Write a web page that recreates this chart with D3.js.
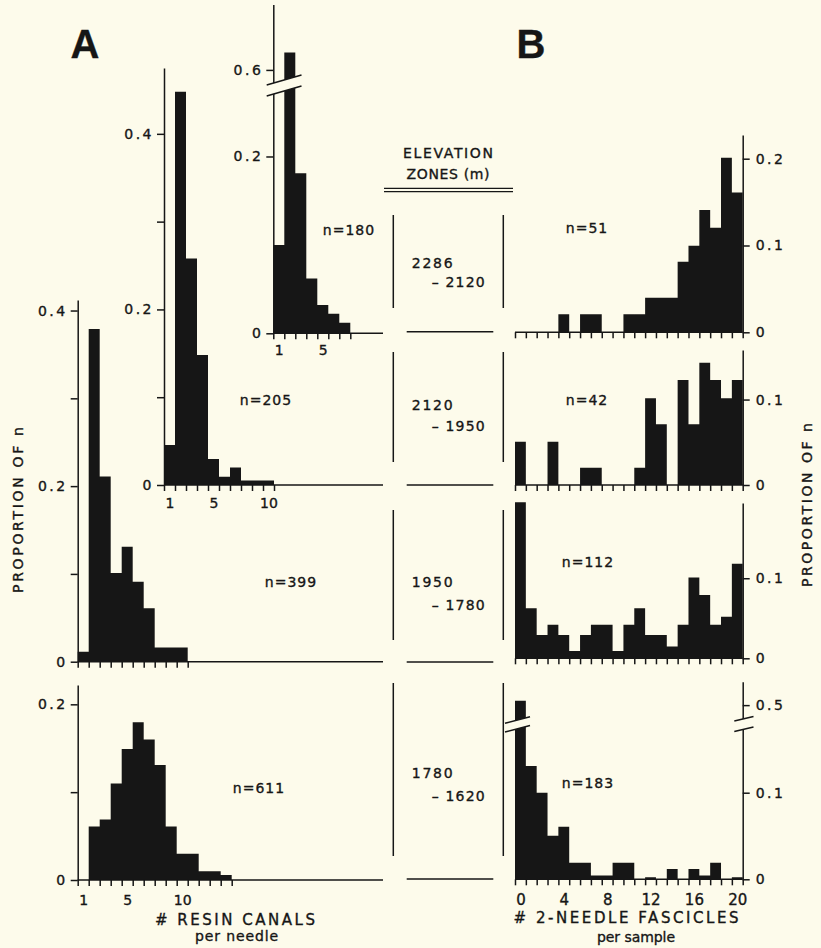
<!DOCTYPE html>
<html>
<head>
<meta charset="utf-8">
<script src="https://cdn.jsdelivr.net/npm/d3@7"></script>
<style>
  html, body { margin: 0; padding: 0; background: #fdfbeb; }
  svg { display: block; }
  text { font-family: "DejaVu Sans", sans-serif; fill: #161616; stroke: #161616; stroke-width: 0.35px; }
</style>
</head>
<body>
<svg id="fig" width="821" height="948"></svg>
<script>
// ---------- data ----------
// A: number of resin canals per needle (categories 1..14)
const resinCanals = d3.range(1, 15);
// proportion of needles in each resin-canal class, per elevation zone
const canals2286 = [0.100, 0.620, 0.181, 0.062, 0.032, 0.022, 0.012];
const canals2120 = [0.0455, 0.448, 0.258, 0.148, 0.0296, 0.0095, 0.020, 0.005, 0.005, 0.005];
const canals1950 = [0.0114, 0.379, 0.211, 0.101, 0.131, 0.091, 0.061, 0.0163, 0.0163, 0.0163];
const canals1780 = [0, 0.061, 0.069, 0.110, 0.149, 0.1795, 0.160, 0.131, 0.061, 0.030, 0.030, 0.010, 0.010, 0.0057];

// B: number of 2-needle fascicles per sample (categories 0..20)
const fascicleCounts = d3.range(0, 21);
const fasc2286 = [0, 0, 0, 0, 0.0207, 0, 0.0207, 0.0207, 0, 0, 0.0207, 0.0207, 0.0399, 0.0399, 0.0399, 0.0813, 0.0998, 0.141, 0.1205, 0.201, 0.161];
const fasc2120 = [0.0507, 0, 0, 0.0507, 0, 0, 0.0203, 0.0203, 0, 0, 0, 0.0203, 0.1014, 0.071, 0, 0.1228, 0.071, 0.143, 0.1228, 0.1014, 0.1228];
const fasc1950 = [0.195, 0.0625, 0.029, 0.042, 0.029, 0.009, 0.029, 0.042, 0.042, 0.009, 0.042, 0.0625, 0.029, 0.029, 0.0146, 0.042, 0.101, 0.079, 0.042, 0.052, 0.118];
const fasc1780 = [0.505, 0.1308, 0.100, 0.0503, 0.0607, 0.0192, 0.0192, 0.0045, 0.0045, 0.0192, 0.0192, 0, 0.0025, 0, 0.0119, 0, 0.0119, 0.0045, 0.0192, 0, 0.0025];

// elevation zones (m) and sample sizes
const zoneUpper = ["2286", "2120", "1950", "1780"];
const zoneLower = ["2120", "1950", "1780", "1620"];
const sampleSizesA = [180, 205, 399, 611];
const sampleSizesB = [51, 42, 112, 183];

// tick labels
const canalTickLabels = [[1, 5], [1, 5, 10], [], [1, 5, 10]];
const fascicleTickLabels = [0, 4, 8, 12, 16, 20];

// ---------- drawing ----------
const BG = "#fdfbeb", INK = "#161616", LW = 1.5;
const svg = d3.select("#fig");
svg.append("rect").attr("width", 821).attr("height", 948).attr("fill", BG);

const fmt = d => d === 0 ? "0" : d3.format(".1f")(d);

function styleAxis(g, size, spacing) {
  g.attr("font-family", null).attr("font-size", null);
  g.selectAll("path, line").attr("stroke", INK).attr("stroke-width", LW);
  g.selectAll("text").attr("fill", INK).style("font-size", size + "px").style("letter-spacing", spacing + "px");
}

function drawBreak(g, x0, x1, y0, slope, gap) {
  const yl = x => y0 + slope * (x - x0);
  g.append("path")
    .attr("d", `M${x0},${yl(x0)}L${x1},${yl(x1)}L${x1},${yl(x1) + gap}L${x0},${yl(x0) + gap}Z`)
    .attr("fill", BG);
  [0, gap].forEach(off => {
    g.append("line")
      .attr("x1", x0).attr("y1", yl(x0) + off)
      .attr("x2", x1).attr("y2", yl(x1) + off)
      .attr("stroke", INK).attr("stroke-width", LW);
  });
}

// one filled path per histogram, so neighbouring classes join without seams
function bars(g, cats, vals, x, y, base) {
  const p = d3.path();
  cats.forEach((c, i) => {
    const v = vals[i];
    if (!(v > 0)) return;
    p.rect(x(c - 0.5), y(v), x(c + 0.5) - x(c - 0.5), base - y(v));
  });
  g.append("path").attr("d", p.toString()).attr("fill", INK);
}

// ---- column A: resin canals ----
const panelsA = [
  { values: canals2286, axisX: 273.3, yDomain: [0, 0.27, 0.585, 0.675], yRange: [333.3, 94.6, 83, 4.5],
    yTicks: [0, 0.2, 0.6], yLabelled: [0, 0.2, 0.6], nBins: 7, labelY: 358, nPos: [349, 235],
    brk: { x0: 266.7, x1: 301.5, y0: 85, slope: -0.29, gap: 11 } },
  { values: canals2120, axisX: 164, yDomain: [0, 0.475], yRange: [485, 68],
    yTicks: [0, 0.1, 0.2, 0.3, 0.4], yLabelled: [0, 0.2, 0.4], nBins: 10, labelY: 511, nPos: [266, 405] },
  { values: canals1950, axisX: 77.7, yDomain: [0, 0.412], yRange: [661.7, 300],
    yTicks: [0, 0.1, 0.2, 0.3, 0.4], yLabelled: [0, 0.2, 0.4], nBins: 10, labelY: 0, nPos: [291, 587] },
  { values: canals1780, axisX: 77.7, yDomain: [0, 0.222], yRange: [880, 685],
    yTicks: [0, 0.1, 0.2], yLabelled: [0, 0.2], nBins: 14, labelY: 908, nPos: [259, 793] }
];
const binA = 11;

panelsA.forEach((p, i) => {
  const g = svg.append("g");
  const base = p.yRange[0];
  const x = d3.scaleLinear().domain([0.5, 1.5]).range([p.axisX, p.axisX + binA]);
  const y = d3.scaleLinear().domain(p.yDomain).range(p.yRange);
  const cats = resinCanals.slice(0, p.values.length);

  bars(g, cats, p.values, x, y, base);

  // baseline
  g.append("line").attr("x1", p.axisX).attr("x2", 383).attr("y1", base).attr("y2", base)
    .attr("stroke", INK).attr("stroke-width", LW);

  // class boundary ticks
  const edges = d3.range(0, p.nBins + 1).map(k => k + 0.5);
  const xa = g.append("g").attr("transform", `translate(0,${base})`)
    .call(d3.axisBottom(x).tickValues(edges).tickFormat("").tickSize(6).tickSizeOuter(0));
  xa.select(".domain").remove();
  styleAxis(xa, 13, 0);

  // category labels
  const labs = canalTickLabels[i];
  if (labs.length) {
    const xl = g.append("g").attr("transform", `translate(0,${p.labelY - 13})`)
      .call(d3.axisBottom(x).tickValues(labs).tickSize(0).tickPadding(0).tickFormat(d3.format("d")));
    xl.select(".domain").remove();
    styleAxis(xl, 14, 0);
  }

  // proportion axis
  const ya = g.append("g").attr("transform", `translate(${p.axisX},0)`)
    .call(d3.axisLeft(y).tickValues(p.yTicks).tickSize(7).tickSizeOuter(0).tickPadding(3)
      .tickFormat(d => p.yLabelled.includes(d) ? fmt(d) : ""));
  styleAxis(ya, 14, 2.5);

  if (p.brk) drawBreak(g, p.brk.x0, p.brk.x1, p.brk.y0, p.brk.slope, p.brk.gap);

  g.append("text").attr("x", p.nPos[0]).attr("y", p.nPos[1])
    .attr("text-anchor", "middle").style("font-size", "14px").style("letter-spacing", "1px")
    .text(`n=${sampleSizesA[i]}`);
});

// ---- column B: 2-needle fascicles ----
const panelsB = [
  { values: fasc2286, yDomain: [0, 0.2273], yRange: [332.3, 135], yTicks: [0, 0.1, 0.2], nPos: [587, 233] },
  { values: fasc2120, yDomain: [0, 0.158], yRange: [485, 350], yTicks: [0, 0.1], nPos: [587, 405] },
  { values: fasc1950, yDomain: [0, 0.194], yRange: [658.3, 503], yTicks: [0, 0.1], nPos: [588, 567] },
  { values: fasc1780, yDomain: [0, 0.173, 0.484, 0.527], yRange: [879.3, 729.5, 719, 681.7], yTicks: [0, 0.1, 0.5], nPos: [588, 788],
    brks: [{ x0: 505, x1: 530, y0: 723.3, slope: -0.26, gap: 8.8 },
           { x0: 734.3, x1: 753.5, y0: 721, slope: -0.23, gap: 10.5 }] }
];
const xB = d3.scaleLinear().domain([-0.5, 20.5]).range([515, 742.7]);
const axisBX = 742.7;

panelsB.forEach((p, i) => {
  const g = svg.append("g");
  const base = p.yRange[0];
  const y = d3.scaleLinear().domain(p.yDomain).range(p.yRange);

  bars(g, fascicleCounts, p.values, xB, y, base);

  g.append("line").attr("x1", xB(-0.5)).attr("x2", axisBX).attr("y1", base).attr("y2", base)
    .attr("stroke", INK).attr("stroke-width", LW);

  const edges = d3.range(0, 22).map(k => k - 0.5);
  const xa = g.append("g").attr("transform", `translate(0,${base})`)
    .call(d3.axisBottom(xB).tickValues(edges).tickFormat("").tickSize(6).tickSizeOuter(0));
  xa.select(".domain").remove();
  styleAxis(xa, 13, 0);

  if (i === panelsB.length - 1) {
    const xl = g.append("g").attr("transform", `translate(0,${base + 15})`)
      .call(d3.axisBottom(xB).tickValues(fascicleTickLabels).tickSize(0).tickPadding(0).tickFormat(d3.format("d")));
    xl.select(".domain").remove();
    styleAxis(xl, 15, 0);
  }

  const ya = g.append("g").attr("transform", `translate(${axisBX},0)`)
    .call(d3.axisRight(y).tickValues(p.yTicks).tickSize(7).tickSizeOuter(0).tickPadding(6).tickFormat(fmt));
  styleAxis(ya, 14, 2.5);

  if (p.brks) p.brks.forEach(b => drawBreak(g, b.x0, b.x1, b.y0, b.slope, b.gap));

  g.append("text").attr("x", p.nPos[0]).attr("y", p.nPos[1])
    .attr("text-anchor", "middle").style("font-size", "14px").style("letter-spacing", "1px")
    .text(`n=${sampleSizesB[i]}`);
});

// ---- middle column: elevation zones ----
const mid = svg.append("g");
mid.append("text").attr("x", 448).attr("y", 158).attr("text-anchor", "middle")
  .style("font-size", "14px").attr("textLength", 90).attr("lengthAdjust", "spacing").text("ELEVATION");
mid.append("text").attr("x", 448).attr("y", 179).attr("text-anchor", "middle")
  .style("font-size", "14px").attr("textLength", 83).attr("lengthAdjust", "spacing").text("ZONES (m)");
[188.3, 191.7].forEach(yy => mid.append("line").attr("x1", 384).attr("x2", 513)
  .attr("y1", yy).attr("y2", yy).attr("stroke", INK).attr("stroke-width", 1.2));

const zoneBoxes = [
  { top: 215, bottom: 308, line: 331.7, t1: 263, t2: 282 },
  { top: 352, bottom: 462, line: 485, t1: 405, t2: 426 },
  { top: 510, bottom: 640, line: 662, t1: 582, t2: 605 },
  { top: 683, bottom: 856, line: 879, t1: 773, t2: 796 }
];
zoneBoxes.forEach((z, i) => {
  [393.3, 503.3].forEach(xx => mid.append("line").attr("x1", xx).attr("x2", xx)
    .attr("y1", z.top).attr("y2", z.bottom).attr("stroke", INK).attr("stroke-width", LW));
  mid.append("line").attr("x1", 406.7).attr("x2", 493.3).attr("y1", z.line).attr("y2", z.line)
    .attr("stroke", INK).attr("stroke-width", LW);
  mid.append("text").attr("x", 411.7).attr("y", z.t1 + 5).style("font-size", "14px")
    .attr("textLength", 41).attr("lengthAdjust", "spacing").text(zoneUpper[i]);
  mid.append("text").attr("x", 431.7).attr("y", z.t2 + 5).style("font-size", "14px")
    .attr("textLength", 53).attr("lengthAdjust", "spacing").text("– " + zoneLower[i]);
});

// ---- panel letters and axis titles ----
svg.append("text").attr("x", 85).attr("y", 58).attr("text-anchor", "middle")
  .style("font-family", "'Liberation Sans', Arial, sans-serif").style("font-weight", "bold").style("font-size", "40px").text("A");
svg.append("text").attr("x", 531).attr("y", 58).attr("text-anchor", "middle")
  .style("font-family", "'Liberation Sans', Arial, sans-serif").style("font-weight", "bold").style("font-size", "40px").text("B");

svg.append("text").attr("transform", "translate(23,510) rotate(-90)").attr("text-anchor", "middle")
  .style("font-size", "14px").attr("textLength", 166).attr("lengthAdjust", "spacing").text("PROPORTION OF n");
svg.append("text").attr("transform", "translate(812,505) rotate(-90)").attr("text-anchor", "middle")
  .style("font-size", "14px").attr("textLength", 164).attr("lengthAdjust", "spacing").text("PROPORTION OF n");

svg.append("text").attr("x", 235).attr("y", 925).attr("text-anchor", "middle")
  .style("font-size", "15px").attr("textLength", 160).attr("lengthAdjust", "spacing").text("# RESIN CANALS");
svg.append("text").attr("x", 236.5).attr("y", 941).attr("text-anchor", "middle")
  .style("font-size", "14px").attr("textLength", 83).attr("lengthAdjust", "spacing").text("per needle");
svg.append("text").attr("x", 626).attr("y", 923).attr("text-anchor", "middle")
  .style("font-size", "15px").attr("textLength", 225).attr("lengthAdjust", "spacing").text("# 2-NEEDLE FASCICLES");
svg.append("text").attr("x", 636).attr("y", 942).attr("text-anchor", "middle")
  .style("font-size", "14px").attr("textLength", 78).attr("lengthAdjust", "spacing").text("per sample");
</script>
</body>
</html>
